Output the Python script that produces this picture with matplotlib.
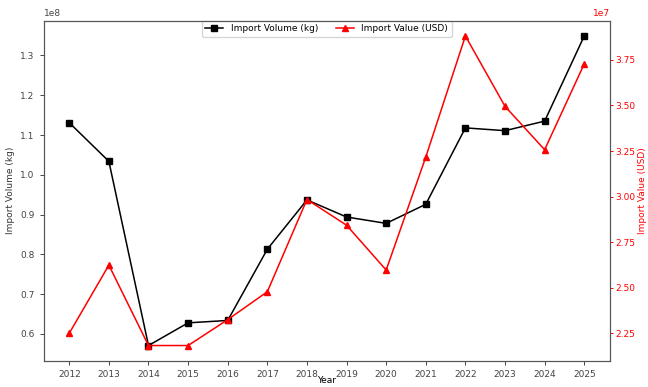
import matplotlib
matplotlib.use("Agg")
import matplotlib.pyplot as plt

years = [2012, 2013, 2014, 2015, 2016, 2017, 2018, 2019, 2020, 2021, 2022, 2023, 2024, 2025]
volume_kg = [1.131e8, 1.034e8, 0.571e8, 0.628e8, 0.634e8, 0.813e8, 0.937e8,
             0.894e8, 0.878e8, 0.926e8, 1.118e8, 1.111e8, 1.135e8, 1.349e8]
value_usd = [2.250e7, 2.624e7, 2.183e7, 2.183e7, 2.325e7, 2.478e7, 2.984e7,
             2.843e7, 2.597e7, 3.217e7, 3.881e7, 3.495e7, 3.257e7, 3.728e7]

fs = 6.5
plt.rcParams["font.family"] = "DejaVu Sans"
plt.rcParams["font.size"] = fs

W, H = 648, 387
fig = plt.figure(figsize=(W / 100, H / 100), dpi=100)
left, right, top, bottom = 43.5, 610, 20.5, 361
ax1 = fig.add_axes([left / W, 1 - bottom / H, (right - left) / W, (bottom - top) / H])
ax2 = ax1.twinx()

l1, = ax1.plot(years, volume_kg, color="black", marker="s", markersize=4.2,
               linewidth=1.1, label="Import Volume (kg)")
l2, = ax2.plot(years, value_usd, color="red", marker="^", markersize=4.2,
               linewidth=1.1, label="Import Value (USD)")

ax1.set_xticks(years)
ax1.set_xlabel("Year", fontsize=fs, va="bottom")
ax1.set_ylabel("Import Volume (kg)", fontsize=fs, color="#333333")
ax2.set_ylabel("Import Value (USD)", fontsize=fs, color="red",
               rotation=90, ha="center", va="bottom")
# keep both outer labels inside the canvas
ax1.xaxis.set_label_coords(0.5, -(H - 2 - bottom) / (bottom - top))
ax2.yaxis.set_label_coords(1 + (W - 1 - right) / (right - left), 0.5)

ax1.tick_params(axis="both", labelsize=fs, colors="#444444", length=3, width=0.7)
ax2.tick_params(axis="y", labelsize=fs, colors="red", length=2.2, width=0.7, pad=1.5)
ax2.yaxis.get_offset_text().set_color("red")
ax1.yaxis.get_offset_text().set_fontsize(fs)
ax2.yaxis.get_offset_text().set_fontsize(fs)

for ax in (ax1, ax2):
    for s in ax.spines.values():
        s.set_color("#555555")
        s.set_linewidth(0.8)

ax1.legend(handles=[l1, l2], loc="upper center", ncol=2, fontsize=fs,
           bbox_to_anchor=(0.5, 1.0), borderaxespad=0.0, frameon=True,
           edgecolor="#cccccc", handlelength=2.0, columnspacing=2.0,
           borderpad=0.4)

fig.savefig("out.png", dpi=100)
